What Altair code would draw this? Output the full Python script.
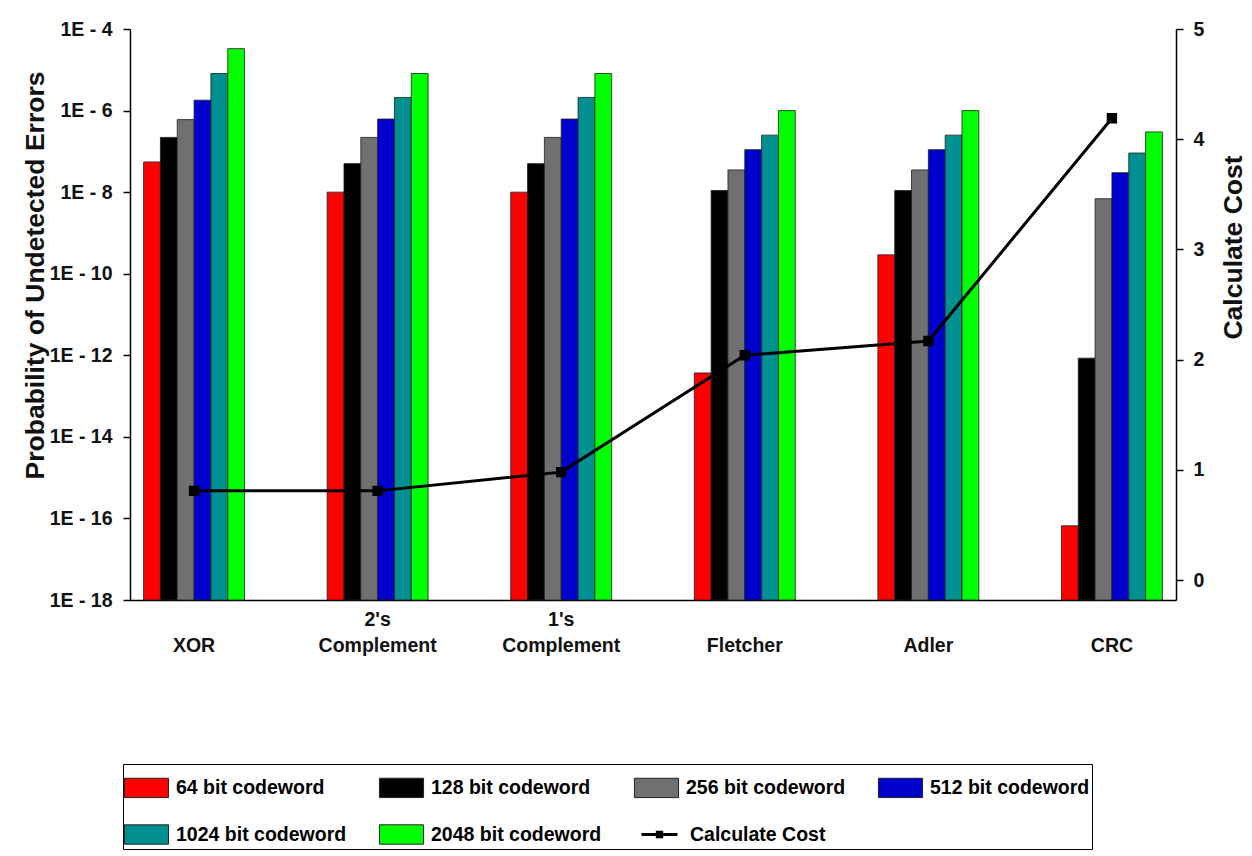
import altair as alt
import pandas as pd

# Checksum methods on the x axis
methods = ["XOR", "2's Complement", "1's Complement", "Fletcher", "Adler", "CRC"]

# Codeword lengths (one bar per length in every group)
series = ["64 bit codeword", "128 bit codeword", "256 bit codeword",
          "512 bit codeword", "1024 bit codeword", "2048 bit codeword"]
series_colors = ["#ff0000", "#000000", "#707070", "#0000cc", "#00908f", "#00ff00"]

# Probability of undetected errors, per codeword length, in method order
p64 = [5.5e-8, 1.0e-8, 1.0e-8, 3.7e-13, 2.9e-10, 6.6e-17]
p128 = [2.2e-7, 5.0e-8, 5.0e-8, 1.1e-8, 1.1e-8, 8.5e-13]
p256 = [6.0e-7, 2.2e-7, 2.2e-7, 3.5e-8, 3.5e-8, 6.9e-9]
p512 = [1.8e-6, 6.2e-7, 6.2e-7, 1.1e-7, 1.1e-7, 3.0e-8]
p1024 = [8.1e-6, 2.1e-6, 2.1e-6, 2.5e-7, 2.5e-7, 9.1e-8]
p2048 = [3.3e-5, 8.1e-6, 8.1e-6, 1.0e-6, 1.0e-6, 3.0e-7]

# Calculation cost of each method (right axis)
cost = [0.81, 0.81, 0.98, 2.04, 2.17, 4.19]
cost_label = "Calculate Cost"

prob_ticks = [1e-18, 1e-16, 1e-14, 1e-12, 1e-10, 1e-8, 1e-6, 1e-4]
cost_ticks = [0, 1, 2, 3, 4, 5]

rows = []
for name, values in zip(series, [p64, p128, p256, p512, p1024, p2048]):
    for m, v in zip(methods, values):
        rows.append({"method": m, "series": name, "prob": v})
bars_df = pd.DataFrame(rows)
cost_df = pd.DataFrame({"method": methods, "cost": cost, "label": [cost_label] * len(methods)})

FONT = "Liberation Sans"

x_enc = alt.X(
    "method:N",
    sort=methods,
    scale=alt.Scale(paddingInner=0.45, paddingOuter=0.074),
    axis=alt.Axis(
        title=None,
        labelAngle=0,
        ticks=False,
        tickSize=0,
        labelPadding=10,
        labelFontSize=19.5,
        labelLineHeight=26,
        labelBaseline="top",
        labelExpr="indexof(datum.label, ' ') > 0 ? split(datum.label, ' ') : ['', datum.label]",
    ),
)

bars = alt.Chart(bars_df).mark_bar(stroke="#1e1e1e", strokeWidth=0.8).encode(
    x=x_enc,
    xOffset=alt.XOffset("series:N", sort=series,
                        scale=alt.Scale(paddingInner=0, paddingOuter=0)),
    y=alt.Y(
        "prob:Q",
        scale=alt.Scale(type="log", domain=[1e-18, 1e-4], nice=False),
        axis=alt.Axis(
            orient="left",
            title="Probability of Undetected Errors",
            values=prob_ticks,
            labelExpr="'1E - ' + round(-log(datum.value) / LN10)",
            grid=False,
            tickSize=7,
            labelPadding=11,
            titleFontSize=26.5,
            titleAngle=270,
            titleAlign="center",
            titleBaseline="middle",
            titleX=-95,
            titleY=246,
        ),
    ),
    y2=alt.datum(1e-18),
    color=alt.Color(
        "series:N",
        sort=series,
        scale=alt.Scale(domain=series, range=series_colors),
        legend=alt.Legend(
            title=None,
            orient="none",
            legendX=-7,
            legendY=735,
            direction="horizontal",
            columns=4,
            columnPadding=30,
            rowPadding=13,
            padding=2,
            strokeColor="#000000",
            symbolType="M-1.05,-0.46L1.05,-0.46L1.05,0.46L-1.05,0.46Z",
            symbolSize=1764,
            symbolStrokeColor="#222222",
            symbolStrokeWidth=1,
            symbolOpacity=1,
            labelFontSize=19.5,
            labelFont=FONT,
            labelFontWeight="bold",
            labelOffset=8,
            labelLimit=400,
        ),
    ),
)

line = alt.Chart(cost_df).mark_line(
    color="black",
    strokeWidth=3,
    point=alt.OverlayMarkDef(shape="square", size=70, filled=True, color="black"),
).encode(
    x=alt.X("method:N", sort=methods),
    y=alt.Y(
        "cost:Q",
        scale=alt.Scale(domain=[-0.18, 5], nice=False, zero=False),
        axis=alt.Axis(
            orient="right",
            title="Calculate Cost",
            values=cost_ticks,
            grid=False,
            tickSize=7,
            labelPadding=10,
            titleFontSize=26.5,
            titleAngle=270,
            titleAlign="center",
            titleBaseline="middle",
            titleX=57,
            titleY=218,
        ),
    ),
    stroke=alt.Stroke(
        "label:N",
        scale=alt.Scale(domain=[cost_label], range=["#000000"]),
        legend=alt.Legend(
            title=None,
            orient="none",
            legendX=510,
            legendY=786,
            padding=0,
            symbolType="M-1,0L1,0M-0.12,-0.12L0.12,-0.12L0.12,0.12L-0.12,0.12Z",
            symbolSize=1296,
            symbolStrokeWidth=3,
            symbolStrokeColor="#000000",
            symbolFillColor="#000000",
            labelFontSize=19.5,
            labelFont=FONT,
            labelFontWeight="bold",
            labelOffset=11,
            labelLimit=400,
        ),
    ),
)

chart = (
    alt.layer(bars, line)
    .resolve_scale(y="independent", stroke="independent", color="independent")
    .properties(
        width=1046,
        height=571,
        autosize=alt.AutoSizeParams(type="none"),
        padding={"left": 130, "top": 29, "right": 76, "bottom": 256},
        background="white",
    )
    .configure_axis(
        labelFont=FONT,
        labelFontWeight="bold",
        labelFontSize=19.5,
        labelColor="#111111",
        titleFont=FONT,
        titleFontWeight="bold",
        titleColor="#111111",
        domainColor="#000000",
        domainWidth=1.5,
        tickColor="#000000",
        tickWidth=1.5,
    )
    .configure_view(strokeWidth=0)
)

chart.save("out.html", embed_options={"renderer": "svg", "actions": False})
